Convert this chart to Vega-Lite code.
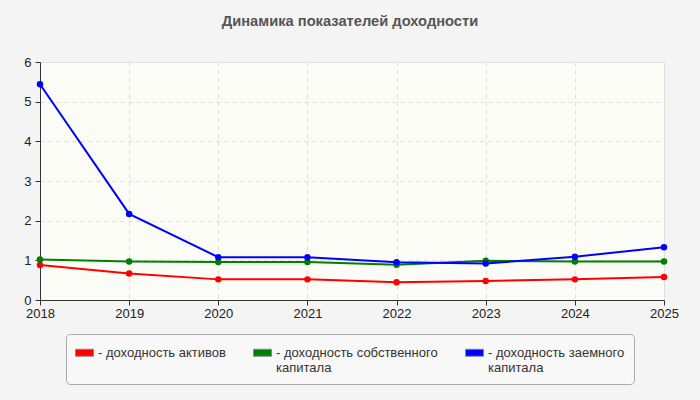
{
  "$schema": "https://vega.github.io/schema/vega-lite/v6.json",
  "width": 624,
  "height": 238,
  "autosize": {"type": "none"},
  "padding": {"left": 40, "top": 62, "right": 36, "bottom": 100},
  "background": "#f4f4f4",
  "title": {
    "text": "Динамика показателей доходности",
    "font": "Liberation Sans",
    "fontSize": 14.7,
    "fontWeight": "bold",
    "color": "#555555",
    "anchor": "middle",
    "offset": 27,
    "dx": -2
  },
  "data": {
    "values": [
      {"year": "2018", "series": "доходность активов", "value": 0.88},
      {"year": "2019", "series": "доходность активов", "value": 0.67},
      {"year": "2020", "series": "доходность активов", "value": 0.52},
      {"year": "2021", "series": "доходность активов", "value": 0.52},
      {"year": "2022", "series": "доходность активов", "value": 0.45},
      {"year": "2023", "series": "доходность активов", "value": 0.48},
      {"year": "2024", "series": "доходность активов", "value": 0.52},
      {"year": "2025", "series": "доходность активов", "value": 0.58},
      {"year": "2018", "series": "доходность собственного капитала", "value": 1.02},
      {"year": "2019", "series": "доходность собственного капитала", "value": 0.97},
      {"year": "2020", "series": "доходность собственного капитала", "value": 0.96},
      {"year": "2021", "series": "доходность собственного капитала", "value": 0.96},
      {"year": "2022", "series": "доходность собственного капитала", "value": 0.89},
      {"year": "2023", "series": "доходность собственного капитала", "value": 0.99},
      {"year": "2024", "series": "доходность собственного капитала", "value": 0.97},
      {"year": "2025", "series": "доходность собственного капитала", "value": 0.97},
      {"year": "2018", "series": "доходность заемного капитала", "value": 5.44},
      {"year": "2019", "series": "доходность заемного капитала", "value": 2.17},
      {"year": "2020", "series": "доходность заемного капитала", "value": 1.08},
      {"year": "2021", "series": "доходность заемного капитала", "value": 1.08},
      {"year": "2022", "series": "доходность заемного капитала", "value": 0.95},
      {"year": "2023", "series": "доходность заемного капитала", "value": 0.92},
      {"year": "2024", "series": "доходность заемного капитала", "value": 1.09},
      {"year": "2025", "series": "доходность заемного капитала", "value": 1.33}
    ]
  },
  "config": {
    "font": "Liberation Sans",
    "view": {"fill": "#fcfcf6", "stroke": "#e2e2e2"},
    "axis": {
      "domainColor": "#333333",
      "tickColor": "#333333",
      "tickSize": 5,
      "labelFontSize": 13,
      "labelColor": "#222222",
      "gridColor": "#dddddd",
      "gridDash": [4, 4],
      "title": null
    }
  },
  "resolve": {"legend": {"color": "independent"}},
  "encoding": {
    "x": {
      "field": "year",
      "type": "ordinal",
      "scale": {"type": "point", "padding": 0},
      "axis": {"labelAngle": 0, "grid": true, "labelPadding": 2}
    },
    "y": {
      "field": "value",
      "type": "quantitative",
      "scale": {"domain": [0, 6], "nice": false},
      "axis": {"values": [0, 1, 2, 3, 4, 5, 6], "grid": true, "labelPadding": 4}
    }
  },
  "layer": [
    {
      "mark": {"type": "line", "strokeWidth": 2},
      "encoding": {
        "color": {
          "field": "series",
          "type": "nominal",
          "scale": {
            "domain": ["доходность активов", "доходность собственного капитала", "доходность заемного капитала"],
            "range": ["#ff0000", "#008000", "#0000ff"]
          },
          "legend": null
        }
      }
    },
    {
      "mark": {"type": "point", "filled": true, "size": 42, "opacity": 1},
      "encoding": {
        "color": {
          "field": "series",
          "type": "nominal",
          "legend": {
            "orient": "none",
            "legendX": 26,
            "legendY": 272,
            "direction": "horizontal",
            "columns": 3,
            "columnPadding": 25,
            "title": null,
            "padding": 9,
            "fillColor": "#f8f8f8",
            "strokeColor": "#aaaaaa",
            "cornerRadius": 4,
            "symbolType": "M-1,-0.39H1V0.39H-1Z",
            "symbolSize": 324,
            "symbolStrokeColor": "#888888",
            "symbolStrokeWidth": 1,
            "symbolOpacity": 1,
            "labelFontSize": 13,
            "labelColor": "#333333",
            "labelOffset": 4,
            "labelBaseline": "middle",
            "labelLimit": 300,
            "labelExpr": "datum.label == 'доходность активов' ? ['- доходность активов', ' '] : datum.label == 'доходность собственного капитала' ? ['- доходность собственного', '  капитала'] : ['- доходность заемного', '  капитала']"
          }
        }
      }
    }
  ]
}
